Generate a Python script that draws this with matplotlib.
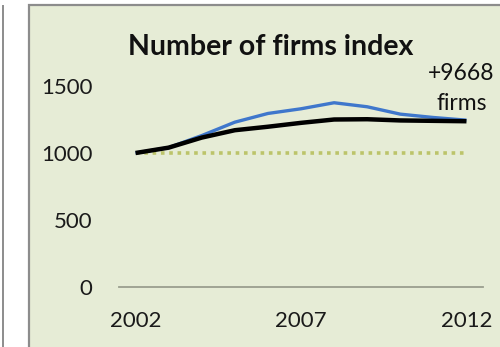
import matplotlib.pyplot as plt
from matplotlib.patches import Rectangle
from matplotlib.lines import Line2D

# Index of number of firms, 2002 = 1000
years = [2002, 2003, 2004, 2005, 2006, 2007, 2008, 2009, 2010, 2011, 2012]
firms_blue = [1000, 1040, 1130, 1230, 1295, 1330, 1375, 1345, 1290, 1265, 1245]
firms_black = [1000, 1040, 1115, 1170, 1196, 1225, 1250, 1252, 1243, 1240, 1237]
baseline = [1000] * len(years)

yticks = [0, 500, 1000, 1500]
xticks = [2002, 2007, 2012]

plt.rcParams['font.family'] = ['Lato', 'DejaVu Sans']

fig = plt.figure(figsize=(5, 3.47), dpi=100)
fig.patch.set_facecolor('white')

W, H = 500, 347

# panel background and frame (behind the axes)
fig.patches.append(Rectangle((29 / W, -0.1), 1.0, 1.1 - 5.5 / H, transform=fig.transFigure,
                             facecolor='#e6ecd6', edgecolor='#8c8c8c', linewidth=1.6,
                             zorder=-10))
# edge of the neighbouring panel
fig.lines.append(Line2D([2.5 / W, 2.5 / W], [0, (H - 5.5) / H], transform=fig.transFigure,
                        color='#8c8c8c', linewidth=1.4, zorder=-10))

ax = fig.add_axes([119 / W, (H - 287) / H, 364 / W, 201 / H])
ax.set_facecolor('none')
ax.set_zorder(5)

ax.plot(years, baseline, color='#bcc46a', linestyle=(0, (1, 1.3)), linewidth=2.6)
ax.plot(years, firms_blue, color='#3f77cc', linewidth=2.4, solid_capstyle='butt')
ax.plot(years, firms_black, color='black', linewidth=3.2, solid_capstyle='butt')

ax.set_xlim(2001.5, 2012.5)
ax.set_ylim(0, 1500)
ax.set_xticks(xticks)
ax.set_yticks(yticks)
ax.tick_params(length=0, labelsize=16, colors='#1a1a1a')
ax.tick_params(axis='y', pad=19)
ax.tick_params(axis='x', pad=17)

for side in ['top', 'right', 'left']:
    ax.spines[side].set_visible(False)
ax.spines['bottom'].set_color('#9a9e8e')
ax.spines['bottom'].set_linewidth(1.3)

fig.text(271 / W, 1 - 47 / H, 'Number of firms index', ha='center', va='center',
         fontsize=20.5, fontweight='bold', color='#111111')
fig.text(461 / W, 1 - 74 / H, '+9668', ha='center', va='center',
         fontsize=16.5, fontweight='normal', color='#111111')
fig.text(462 / W, 1 - 103 / H, 'firms', ha='center', va='center',
         fontsize=16.5, fontweight='normal', color='#111111')

fig.savefig('out.png', dpi=100, facecolor=fig.get_facecolor())
